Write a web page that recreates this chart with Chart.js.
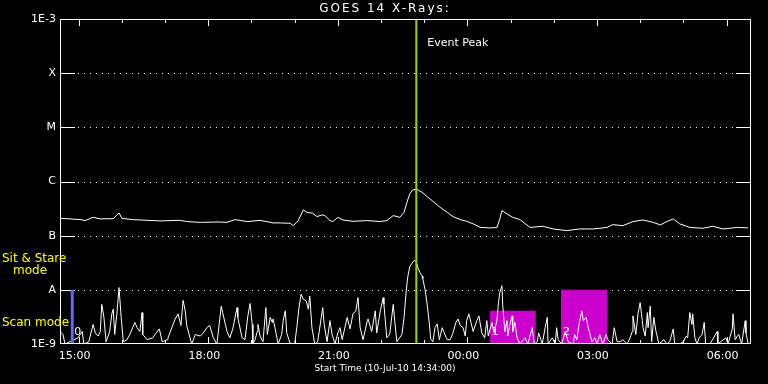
<!DOCTYPE html>
<html>
<head>
<meta charset="utf-8">
<script src="https://cdn.jsdelivr.net/npm/chart.js@4/dist/chart.umd.min.js"></script>
<style>
  html, body { margin: 0; padding: 0; background: #000; }
  canvas { display: block; }
</style>
</head>
<body>
<canvas id="goes-chart" width="768" height="384"></canvas>
<script>
// x values are minutes after the start time 10-Jul-10 14:34:00
const chartTitle = 'GOES 14 X-Rays:';
const xTitle = 'Start Time (10-Jul-10 14:34:00)';
const xTickMinutes = [26, 206, 386, 566, 746, 926];
const xTickLabels = ['15:00', '18:00', '21:00', '00:00', '03:00', '06:00'];
const yTickValues = [1e-9, 1e-8, 1e-7, 1e-6, 1e-5, 1e-4, 1e-3];
const yTickLabels = ['1E-9', 'A', 'B', 'C', 'M', 'X', '1E-3'];

// 1-8 A channel
const longTimes = [0, 14, 28, 35, 46, 56, 74, 82, 86, 101, 121, 139, 167, 176, 195, 222, 232, 243, 260, 278,
  296, 306, 320, 324, 331, 338, 343, 351, 357, 364, 368, 375, 379, 386, 393, 407, 427, 445, 454, 463,
  472, 478, 482, 486, 490, 496, 503, 510, 518, 528, 538, 546, 556, 565, 574, 584, 597, 607, 611, 614,
  621, 629, 639, 653, 671, 685, 704, 722, 741, 760, 768, 782, 796, 810, 824, 834, 843, 852, 861, 875,
  893, 907, 921, 941, 956];
const longFlux = [2.09e-7, 2.04e-7, 1.98e-7, 1.90e-7, 2.18e-7, 2.04e-7, 2.06e-7, 2.63e-7, 2.09e-7, 1.98e-7,
  1.92e-7, 1.87e-7, 1.92e-7, 1.82e-7, 1.76e-7, 1.79e-7, 1.76e-7, 1.98e-7, 1.82e-7, 1.92e-7,
  1.72e-7, 1.72e-7, 1.69e-7, 1.53e-7, 1.90e-7, 2.99e-7, 2.70e-7, 2.59e-7, 2.25e-7, 2.42e-7,
  2.35e-7, 1.90e-7, 1.82e-7, 2.18e-7, 1.95e-7, 1.84e-7, 1.90e-7, 1.82e-7, 1.90e-7, 2.35e-7,
  2.18e-7, 2.70e-7, 4.14e-7, 5.92e-7, 7.02e-7, 7.11e-7, 6.34e-7, 5.27e-7, 4.32e-7, 3.34e-7,
  2.70e-7, 2.25e-7, 1.98e-7, 1.84e-7, 1.65e-7, 1.42e-7, 1.39e-7, 1.41e-7, 2.04e-7, 2.90e-7,
  2.52e-7, 2.18e-7, 1.98e-7, 1.42e-7, 1.49e-7, 1.33e-7, 1.24e-7, 1.33e-7, 1.33e-7, 1.42e-7,
  1.60e-7, 1.53e-7, 1.82e-7, 1.95e-7, 1.76e-7, 1.58e-7, 1.82e-7, 2.04e-7, 1.65e-7, 1.42e-7,
  1.37e-7, 1.49e-7, 1.33e-7, 1.42e-7, 1.39e-7];

// 0.5-4 A channel
const shortTimes = [0, 4, 7, 25, 31, 33, 40, 46, 49, 53, 56, 58, 61, 64, 69, 72, 74, 76, 79, 82,
  85, 88, 93, 97, 104, 107, 111, 114, 115, 121, 129, 132, 138, 142, 149, 150, 160, 164, 168, 171,
  174, 176, 183, 188, 195, 199, 204, 208, 213, 218, 224, 226, 232, 236, 240, 246, 247, 253, 257, 261,
  264, 267, 268, 271, 274, 275, 278, 282, 286, 288, 292, 295, 296, 299, 303, 308, 310, 313, 315, 320,
  326, 329, 332, 335, 338, 342, 345, 347, 350, 354, 358, 363, 365, 367, 371, 375, 378, 382, 386, 389,
  392, 399, 403, 407, 411, 414, 417, 421, 427, 428, 433, 438, 440, 445, 449, 450, 454, 458, 463, 465,
  468, 475, 478, 481, 483, 486, 489, 492, 495, 497, 500, 503, 504, 507, 510, 513, 515, 518, 521, 524,
  527, 531, 533, 538, 542, 546, 550, 553, 556, 560, 563, 565, 568, 571, 574, 579, 582, 586, 590, 593,
  595, 600, 603, 607, 609, 611, 614, 615, 618, 621, 622, 625, 628, 629, 632, 635, 639, 646, 650, 656,
  659, 663, 665, 670, 674, 677, 678, 684, 688, 690, 692, 697, 702, 706, 713, 715, 718, 721, 725, 727,
  731, 734, 739, 743, 746, 750, 754, 759, 761, 767, 770, 774, 778, 782, 788, 792, 795, 796, 800, 803,
  806, 809, 810, 813, 816, 817, 820, 822, 825, 828, 829, 832, 839, 843, 847, 852, 854, 861, 866, 870,
  872, 875, 878, 879, 882, 885, 888, 892, 895, 897, 903, 913, 914, 925, 928, 934, 935, 938, 941, 943,
  947, 952, 953, 956, 959];
const shortFlux = [1.7e-9, 1.5e-9, 1.0e-9, 1.3e-9, 1.7e-9, 1.0e-9, 1.1e-9, 2.3e-9, 1.6e-9, 1.4e-9,
  1.7e-9, 5.4e-9, 3.1e-9, 1.1e-9, 1.7e-9, 3.6e-9, 4.4e-9, 1.5e-9, 3.6e-9, 1.1e-8,
  3.1e-9, 1.1e-9, 1.2e-9, 1.5e-9, 2.5e-9, 2.0e-9, 1.7e-9, 3.8e-9, 1.5e-9, 1.2e-9,
  1.3e-9, 1.5e-9, 1.9e-9, 1.1e-9, 1.2e-9, 1.3e-9, 2.9e-9, 3.6e-9, 2.2e-9, 6.4e-9,
  4.1e-9, 2.2e-9, 1.0e-9, 1.5e-9, 1.4e-9, 1.6e-9, 2.0e-9, 2.2e-9, 1.3e-9, 1.0e-9,
  5.0e-9, 3.8e-9, 1.7e-9, 1.3e-9, 1.9e-9, 4.7e-9, 3.1e-9, 1.3e-9, 1.2e-9, 3.3e-9,
  5.6e-9, 2.3e-9, 1.0e-9, 1.2e-9, 1.7e-9, 2.3e-9, 1.4e-9, 1.1e-9, 4.7e-9, 1.5e-9,
  3.1e-9, 2.5e-9, 2.9e-9, 1.9e-9, 1.0e-9, 1.5e-9, 2.7e-9, 4.1e-9, 1.6e-9, 1.0e-9,
  1.0e-9, 2.0e-9, 4.7e-9, 8.3e-9, 6.7e-9, 6.3e-9, 4.4e-9, 7.7e-9, 2.0e-9, 1.0e-9,
  1.1e-9, 3.1e-9, 4.7e-9, 2.3e-9, 1.1e-9, 2.7e-9, 1.5e-9, 1.0e-9, 1.6e-9, 2.0e-9,
  1.2e-9, 3.1e-9, 1.9e-9, 3.6e-9, 4.1e-9, 7.2e-9, 2.0e-9, 1.2e-9, 2.7e-9, 2.9e-9,
  1.7e-9, 4.1e-9, 1.6e-9, 4.1e-9, 7.2e-9, 5.4e-9, 1.3e-9, 1.5e-9, 5.4e-9, 2.7e-9,
  1.1e-9, 1.5e-9, 3.1e-9, 9.6e-9, 1.7e-8, 2.7e-8, 3.1e-8, 3.5e-8, 3.3e-8, 2.6e-8,
  2.1e-8, 1.8e-8, 1.6e-8, 1.04e-8, 5.5e-9, 2.45e-9, 1.24e-9, 1.1e-9, 2.0e-9, 2.35e-9,
  1.2e-9, 2.0e-9, 1.7e-9, 1.2e-9, 1.2e-9, 1.6e-9, 2.5e-9, 2.9e-9, 2.2e-9, 2.0e-9,
  1.4e-9, 2.7e-9, 3.6e-9, 2.5e-9, 1.7e-9, 2.7e-9, 3.3e-9, 1.6e-9, 1.3e-9, 2.7e-9,
  1.4e-9, 2.5e-9, 1.6e-9, 2.7e-9, 5.5e-9, 8.9e-9, 1.19e-8, 5.4e-9, 1.7e-9, 2.7e-9,
  1.4e-9, 2.3e-9, 3.3e-9, 1.7e-9, 2.5e-9, 1.3e-9, 1.0e-9, 1.3e-9, 1.0e-9, 2.0e-9,
  1.0e-9, 1.1e-9, 1.6e-9, 1.0e-9, 2.0e-9, 3.1e-9, 1.0e-9, 1.3e-9, 1.0e-9, 2.0e-9,
  1.2e-9, 1.0e-9, 1.7e-9, 1.1e-9, 1.0e-9, 1.5e-9, 1.2e-9, 2.3e-9, 4.1e-9, 2.7e-9,
  3.1e-9, 2.0e-9, 1.1e-9, 1.3e-9, 1.0e-9, 1.5e-9, 1.0e-9, 1.5e-9, 1.2e-9, 1.0e-9,
  2.0e-9, 1.1e-9, 1.1e-9, 1.2e-9, 1.0e-9, 1.3e-9, 1.7e-9, 3.3e-9, 1.5e-9, 3.6e-9,
  5.8e-9, 2.7e-9, 2.0e-9, 1.4e-9, 3.8e-9, 2.0e-9, 5.0e-9, 1.1e-9, 3.1e-9, 1.7e-9,
  1.5e-9, 1.0e-9, 1.2e-9, 1.0e-9, 1.1e-9, 1.9e-9, 1.0e-9, 1.0e-9, 1.1e-9, 1.4e-9,
  1.3e-9, 3.8e-9, 2.3e-9, 3.6e-9, 1.3e-9, 1.0e-9, 1.3e-9, 1.5e-9, 2.5e-9, 1.0e-9,
  1.0e-9, 1.7e-9, 1.0e-9, 1.3e-9, 1.0e-9, 1.9e-9, 3.6e-9, 1.2e-9, 1.4e-9, 1.5e-9,
  1.0e-9, 2.7e-9, 1.6e-9, 1.0e-9, 1.0e-9];

// event peak and observing modes
const eventPeakMinute = 495;
const sitStareMinute = 17;
const sitStareLevel = 1e-8;
const scanStart = [597, 696];
const scanEnd = [661, 760];
const scanLevel = [4.1e-9, 1e-8];
const modeNumbers = ['0', '1', '2'];
const modeNumberMinutes = [sitStareMinute, scanStart[0], scanStart[1]];

const font = 'DejaVu Sans';
const yellow = '#ffff00';

function toPoints(xs, ys) {
  return xs.map((t, i) => ({ x: t, y: ys[i] }));
}

const decorations = {
  id: 'decorations',
  beforeDraw(chart) {
    const { ctx, width, height } = chart;
    ctx.save();
    ctx.fillStyle = '#000';
    ctx.fillRect(0, 0, width, height);
    ctx.restore();
  },
  beforeDatasetsDraw(chart) {
    const { ctx, chartArea: a, scales: { x, y } } = chart;
    ctx.save();
    ctx.strokeStyle = '#fff';
    ctx.lineWidth = 1;
    // decade lines: solid ticks at both sides, dotted in between
    yTickValues.slice(1, -1).forEach(v => {
      const py = Math.round(y.getPixelForValue(v)) + 0.5;
      ctx.setLineDash([]);
      ctx.beginPath();
      ctx.moveTo(a.left, py); ctx.lineTo(a.left + 15, py);
      ctx.moveTo(a.right - 15, py); ctx.lineTo(a.right, py);
      ctx.stroke();
      ctx.setLineDash([1, 5]);
      ctx.beginPath();
      ctx.moveTo(a.left + 18, py); ctx.lineTo(a.right - 15, py);
      ctx.stroke();
    });
    ctx.setLineDash([]);
    // hour ticks on top and bottom
    ctx.beginPath();
    for (let m = xTickMinutes[0], k = 0; m < x.max; m += 60, k++) {
      const px = Math.round(x.getPixelForValue(m)) + 0.5;
      const len = k % 3 === 0 ? 7 : 4;
      ctx.moveTo(px, a.top); ctx.lineTo(px, a.top + len);
      ctx.moveTo(px, a.bottom); ctx.lineTo(px, a.bottom - len);
    }
    ctx.stroke();
    ctx.restore();
  },
  afterDraw(chart) {
    const { ctx, chartArea: a, scales: { x, y } } = chart;
    ctx.save();
    ctx.strokeStyle = '#fff';
    ctx.lineWidth = 1;
    ctx.strokeRect(a.left + 0.5, a.top + 0.5, a.right - a.left - 1, a.bottom - a.top - 1);

    ctx.textBaseline = 'middle';
    ctx.fillStyle = '#fff';
    ctx.textAlign = 'center';
    ctx.font = '12px "' + font + '"';
    ctx.letterSpacing = '2px';
    ctx.fillText(chartTitle, 385, 9);
    ctx.letterSpacing = '0px';
    ctx.font = '9px "' + font + '"';
    ctx.fillText(xTitle, 385, 369);

    ctx.textAlign = 'left';
    ctx.font = '11px "' + font + '"';
    ctx.fillText('Event Peak', x.getPixelForValue(eventPeakMinute) + 11, 43);

    modeNumbers.forEach((s, i) => {
      ctx.fillText(s, x.getPixelForValue(modeNumberMinutes[i]) + 2, 332);
    });

    ctx.fillStyle = yellow;
    ctx.font = '12px "' + font + '"';
    ctx.fillText('Sit & Stare', 2, 259);
    ctx.fillText('mode', 13, 271);
    ctx.fillText('Scan mode', 2, 323);
    ctx.restore();
  }
};

const ctx = document.getElementById('goes-chart').getContext('2d');
const goesChart = new Chart(ctx, {
  type: 'line',
  data: {
    datasets: [
      {
        label: 'Event peak',
        data: [{ x: eventPeakMinute, y: 1e-9 }, { x: eventPeakMinute, y: 1e-3 }],
        borderColor: '#a0d200',
        borderWidth: 2,
        order: 0
      },
      {
        label: 'Sit & Stare',
        data: [{ x: sitStareMinute, y: 1e-9 }, { x: sitStareMinute, y: sitStareLevel }],
        borderColor: '#6464ff',
        borderWidth: 3,
        order: 1
      },
      {
        label: '1-8 A',
        data: toPoints(longTimes, longFlux),
        borderColor: '#ffffff',
        borderWidth: 1,
        order: 2
      },
      {
        label: '0.5-4 A',
        data: toPoints(shortTimes, shortFlux),
        borderColor: '#ffffff',
        borderWidth: 1,
        order: 2
      },
      {
        label: 'Scan 1',
        data: [{ x: scanStart[0], y: scanLevel[0] }, { x: scanEnd[0], y: scanLevel[0] }],
        borderWidth: 0,
        backgroundColor: '#cc00cc',
        fill: 'start',
        order: 5
      },
      {
        label: 'Scan 2',
        data: [{ x: scanStart[1], y: scanLevel[1] }, { x: scanEnd[1], y: scanLevel[1] }],
        borderWidth: 0,
        backgroundColor: '#cc00cc',
        fill: 'start',
        order: 5
      }
    ]
  },
  options: {
    responsive: false,
    animation: false,
    layout: { autoPadding: false, padding: { top: 19, right: 17, left: 0, bottom: 0 } },
    elements: {
      point: { radius: 0 },
      line: { tension: 0, borderJoinStyle: 'round', fill: false }
    },
    plugins: {
      legend: { display: false },
      tooltip: { enabled: false },
      title: { display: false }
    },
    scales: {
      x: {
        type: 'linear',
        min: 0,
        max: 960,
        grid: { display: false, drawTicks: false },
        border: { display: false },
        afterFit: s => { s.height = 40; },
        afterBuildTicks: s => { s.ticks = xTickMinutes.map(v => ({ value: v })); },
        ticks: {
          color: '#fff',
          font: { family: font, size: 11 },
          padding: 6,
          labelOffset: -4,
          maxRotation: 0,
          autoSkip: false,
          callback: (v, i) => xTickLabels[i]
        }
      },
      y: {
        type: 'logarithmic',
        min: 1e-9,
        max: 1e-3,
        grid: { display: false, drawTicks: false },
        border: { display: false },
        afterFit: s => { s.width = 60; },
        afterBuildTicks: s => { s.ticks = yTickValues.map(v => ({ value: v })); },
        ticks: {
          color: '#fff',
          font: { family: font, size: 11 },
          padding: 4,
          autoSkip: false,
          callback: (v, i) => yTickLabels[i]
        }
      }
    }
  },
  plugins: [decorations]
});
</script>
</body>
</html>
